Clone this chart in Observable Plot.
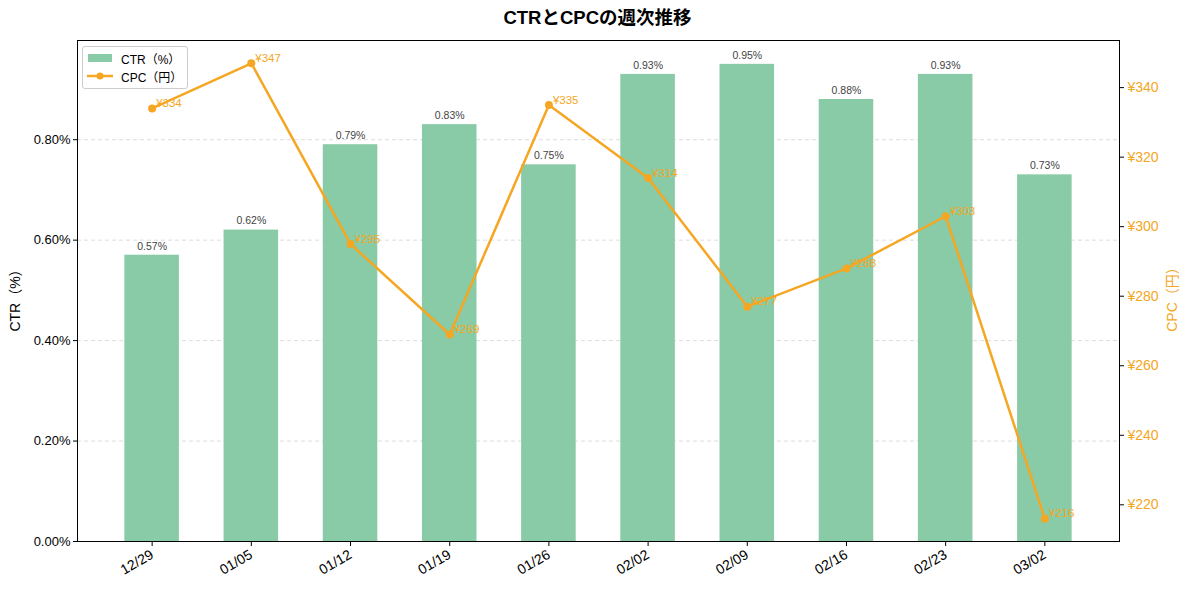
<!DOCTYPE html>
<html>
<head>
<meta charset="utf-8">
<script src="https://cdn.jsdelivr.net/npm/d3@7"></script>
<script src="https://cdn.jsdelivr.net/npm/@observablehq/plot@0.6"></script>
<style>
  html, body { margin: 0; padding: 0; background: #fff; }
  body { width: 1189px; height: 590px; position: relative; font-family: "Liberation Sans", "Noto Sans CJK JP", sans-serif; overflow: hidden; }
  #title { position: absolute; top: 4px; left: 0; width: 1195px; text-align: center; font-size: 18.5px; font-weight: bold; color: #000; line-height: 28px; }
  #chart { position: absolute; top: 32px; left: 0; }
  #legend { position: absolute; left: 82px; top: 46px; width: 104px; height: 41px; border: 1px solid #ccc; border-radius: 3px; background: rgba(255,255,255,0.85); font-size: 12px; color: #000; }
  .lg-row { position: absolute; left: 4px; height: 18px; display: flex; align-items: center; }
  .lg-row svg { margin-right: 8px; }
  .ylab { position: absolute; font-size: 14px; white-space: nowrap; transform: translate(-50%, -50%) rotate(-90deg); line-height: 16px; }
</style>
</head>
<body>
<div id="title">CTRとCPCの週次推移</div>
<div id="chart"></div>
<div class="ylab" style="left:15px; top:297px; color:#000;">CTR（%）</div>
<div class="ylab" style="left:1172px; top:296px; color:#f5a623;">CPC（円）</div>
<div id="legend">
  <div class="lg-row" style="top:2px"><svg width="26" height="10"><rect x="1" y="1" width="24" height="8" fill="#88cba6"></rect></svg>CTR（%）</div>
  <div class="lg-row" style="top:20px"><svg width="26" height="10"><line x1="0" y1="5" x2="26" y2="5" stroke="#f5a623" stroke-width="2.5"></line><circle cx="13" cy="5" r="3.5" fill="#f5a623"></circle></svg>CPC（円）</div>
</div>
<script>
const weeks = ["12/29","01/05","01/12","01/19","01/26","02/02","02/09","02/16","02/23","03/02"];
const ctr = [0.57,0.62,0.79,0.83,0.75,0.93,0.95,0.88,0.93,0.73];
const cpc = [334,347,295,269,335,314,277,288,303,216];
const ctrTicks = [0,0.2,0.4,0.6,0.8];
const cpcTicks = [220,240,260,280,300,320,340];

const barColor = "#88cba6";
const lineColor = "#f5a623";

const data = weeks.map((w, i) => ({i, week: w, ctr: ctr[i], cpc: cpc[i]}));

const ctrMax = d3.max(ctr) * 1.05;
const cpcMin = d3.min(cpc), cpcMaxV = d3.max(cpc);
const cpcPad = (cpcMaxV - cpcMin) * 0.05;
const cpcLo = cpcMin - cpcPad, cpcHi = cpcMaxV + cpcPad;
const toY = v => (v - cpcLo) / (cpcHi - cpcLo) * ctrMax;
const fromY = y => cpcLo + y / ctrMax * (cpcHi - cpcLo);

const bw = 0.55;
const n = weeks.length;
const xPad = (n - 1 + bw) * 0.05;

const chart = Plot.plot({
  width: 1189,
  height: 558,
  marginLeft: 77,
  marginRight: 70,
  marginTop: 8,
  marginBottom: 49,
  style: {fontFamily: '"Liberation Sans", "Noto Sans CJK JP", sans-serif', fontSize: "13px", color: "#000", background: "#fff"},
  x: {type: "linear", domain: [-bw/2 - xPad, n - 1 + bw/2 + xPad]},
  y: {domain: [0, ctrMax]},
  marks: [
    Plot.ruleY(ctrTicks.filter(d => d > 0), {stroke: "#dddddd", strokeDasharray: "4,3", strokeWidth: 1}),
    Plot.rectY(data, {x1: d => d.i - bw/2, x2: d => d.i + bw/2, y1: 0, y2: "ctr", fill: barColor}),
    Plot.text(data, {x: "i", y: "ctr", text: d => d.ctr.toFixed(2) + "%", dy: -9, fill: "#444", fontSize: 10.5}),
    Plot.line(data, {x: "i", y: d => toY(d.cpc), stroke: lineColor, strokeWidth: 2.5}),
    Plot.dot(data, {x: "i", y: d => toY(d.cpc), r: 4, fill: lineColor}),
    Plot.text(data, {x: "i", y: d => toY(d.cpc), text: d => "¥" + d.cpc, dx: 4, dy: -5, textAnchor: "start", fill: lineColor, fontSize: 11.5}),
    Plot.axisY(ctrTicks, {anchor: "left", tickFormat: d => d.toFixed(2) + "%", label: null, tickSize: 4, tickPadding: 3, fontSize: 13}),
    Plot.axisY(cpcTicks.map(toY), {anchor: "right", tickFormat: d => "¥" + Math.round(fromY(d)), label: null, tickSize: 4, tickPadding: 4, fill: lineColor, fontSize: 14}),
    Plot.axisX(d3.range(n), {anchor: "bottom", tickFormat: i => weeks[i], tickRotate: -30, label: null, tickSize: 5, tickPadding: 7, fontSize: 14}),
    Plot.frame({stroke: "#000", strokeWidth: 1})
  ]
});
document.getElementById("chart").appendChild(chart);
</script>
</body>
</html>
